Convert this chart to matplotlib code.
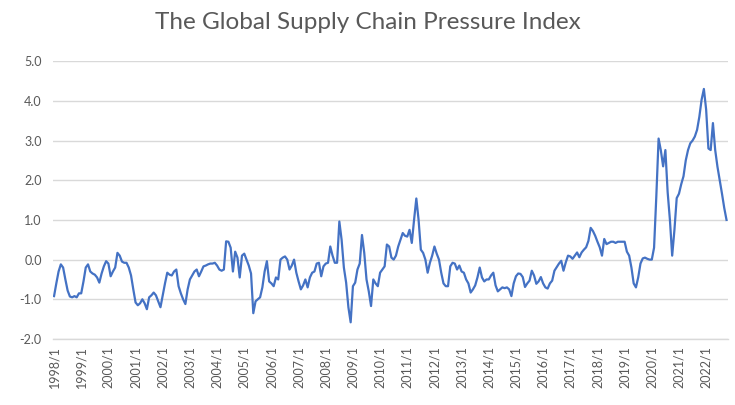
import matplotlib
matplotlib.use("Agg")
import matplotlib.pyplot as plt
import numpy as np

title = "The Global Supply Chain Pressure Index"

years = list(range(1998, 2023))

gscpi_1998 = [-0.92, -0.6, -0.3, -0.12, -0.2, -0.5, -0.78, -0.93, -0.95, -0.92, -0.95, -0.85]
gscpi_1999 = [-0.85, -0.55, -0.2, -0.12, -0.3, -0.35, -0.38, -0.45, -0.58, -0.35, -0.17, -0.04]
gscpi_2000 = [-0.1, -0.42, -0.3, -0.2, 0.17, 0.1, -0.05, -0.08, -0.08, -0.2, -0.4, -0.75]
gscpi_2001 = [-1.08, -1.15, -1.1, -1.0, -1.1, -1.25, -0.95, -0.9, -0.83, -0.9, -1.05, -1.2]
gscpi_2002 = [-0.9, -0.6, -0.33, -0.38, -0.4, -0.3, -0.25, -0.67, -0.85, -1.0, -1.12, -0.75]
gscpi_2003 = [-0.5, -0.4, -0.3, -0.25, -0.42, -0.3, -0.17, -0.15, -0.12, -0.1, -0.1, -0.08]
gscpi_2004 = [-0.15, -0.25, -0.28, -0.25, 0.46, 0.45, 0.3, -0.3, 0.2, 0.05, -0.45, 0.1]
gscpi_2005 = [0.15, 0.0, -0.15, -0.35, -1.35, -1.05, -1.0, -0.95, -0.7, -0.3, -0.04, -0.55]
gscpi_2006 = [-0.6, -0.67, -0.45, -0.5, 0.0, 0.05, 0.08, 0.0, -0.25, -0.15, 0.0, -0.33]
gscpi_2007 = [-0.55, -0.75, -0.65, -0.5, -0.7, -0.45, -0.33, -0.3, -0.1, -0.08, -0.42, -0.17]
gscpi_2008 = [-0.1, -0.08, 0.33, 0.1, -0.08, -0.08, 0.96, 0.5, -0.2, -0.58, -1.2, -1.58]
gscpi_2009 = [-0.67, -0.58, -0.25, -0.1, 0.62, 0.17, -0.5, -0.8, -1.17, -0.5, -0.6, -0.67]
gscpi_2010 = [-0.33, -0.25, -0.17, 0.38, 0.33, 0.05, 0.0, 0.1, 0.33, 0.5, 0.67, 0.6]
gscpi_2011 = [0.58, 0.75, 0.42, 1.0, 1.54, 1.0, 0.25, 0.17, 0.0, -0.33, -0.08, 0.1]
gscpi_2012 = [0.33, 0.15, 0.0, -0.33, -0.6, -0.67, -0.67, -0.17, -0.08, -0.1, -0.25, -0.15]
gscpi_2013 = [-0.3, -0.33, -0.5, -0.6, -0.83, -0.75, -0.65, -0.45, -0.2, -0.45, -0.55, -0.5]
gscpi_2014 = [-0.5, -0.4, -0.33, -0.65, -0.8, -0.75, -0.7, -0.72, -0.7, -0.75, -0.92, -0.6]
gscpi_2015 = [-0.42, -0.35, -0.36, -0.44, -0.69, -0.6, -0.53, -0.28, -0.4, -0.61, -0.55, -0.44]
gscpi_2016 = [-0.6, -0.7, -0.73, -0.6, -0.53, -0.28, -0.19, -0.1, -0.03, -0.28, -0.07, 0.1]
gscpi_2017 = [0.08, 0.02, 0.1, 0.18, 0.06, 0.18, 0.25, 0.31, 0.47, 0.8, 0.72, 0.6]
gscpi_2018 = [0.45, 0.31, 0.1, 0.52, 0.39, 0.42, 0.45, 0.45, 0.42, 0.45, 0.45, 0.45]
gscpi_2019 = [0.45, 0.2, 0.1, -0.2, -0.6, -0.7, -0.45, -0.1, 0.03, 0.05, 0.02, 0.0]
gscpi_2020 = [0.0, 0.3, 1.6, 3.05, 2.75, 2.35, 2.76, 1.7, 1.0, 0.1, 0.75, 1.55]
gscpi_2021 = [1.66, 1.9, 2.1, 2.5, 2.76, 2.93, 3.0, 3.1, 3.27, 3.6, 4.03, 4.3]
gscpi_2022 = [3.78, 2.8, 2.76, 3.44, 2.76, 2.34, 2.0, 1.66, 1.3, 1.0]

series = (gscpi_1998 + gscpi_1999 + gscpi_2000 + gscpi_2001 + gscpi_2002 +
          gscpi_2003 + gscpi_2004 + gscpi_2005 + gscpi_2006 + gscpi_2007 +
          gscpi_2008 + gscpi_2009 + gscpi_2010 + gscpi_2011 + gscpi_2012 +
          gscpi_2013 + gscpi_2014 + gscpi_2015 + gscpi_2016 + gscpi_2017 +
          gscpi_2018 + gscpi_2019 + gscpi_2020 + gscpi_2021 + gscpi_2022)

tick_labels = [f"{y}/1" for y in years]
y_ticks = [-2.0, -1.0, 0.0, 1.0, 2.0, 3.0, 4.0, 5.0]

plt.rcParams['font.family'] = ['Lato', 'DejaVu Sans']

fig = plt.figure(figsize=(7.35, 4.05), dpi=100)
ax = fig.add_axes([0.072, 0.163, 0.918, 0.686])

x = np.arange(len(series))
ax.plot(x, series, color="#4472C4", lw=1.6, solid_joinstyle="round")

ax.set_xlim(-0.5, len(series) - 0.5)
ax.set_ylim(-2.0, 5.0)
ax.set_yticks(y_ticks)
ax.set_yticklabels([f"{v:.1f}" for v in y_ticks])
ax.set_xticks(np.arange(0, len(series), 12))
ax.set_xticklabels(tick_labels, rotation=90)

ax.grid(axis="y", color="#d9d9d9", lw=1.0)
ax.set_axisbelow(True)
for s in ["top", "right", "left"]:
    ax.spines[s].set_visible(False)
ax.spines["bottom"].set_color("#d9d9d9")
ax.spines["bottom"].set_linewidth(1.0)
ax.tick_params(axis="both", length=0, colors="#595959", labelsize=9)
ax.tick_params(axis="x", pad=5)
ax.tick_params(axis="y", pad=8)

fig.text(0.5, 0.945, title, ha="center", va="center", fontsize=17.5, color="#595959")

fig.savefig("out.png", dpi=100)
